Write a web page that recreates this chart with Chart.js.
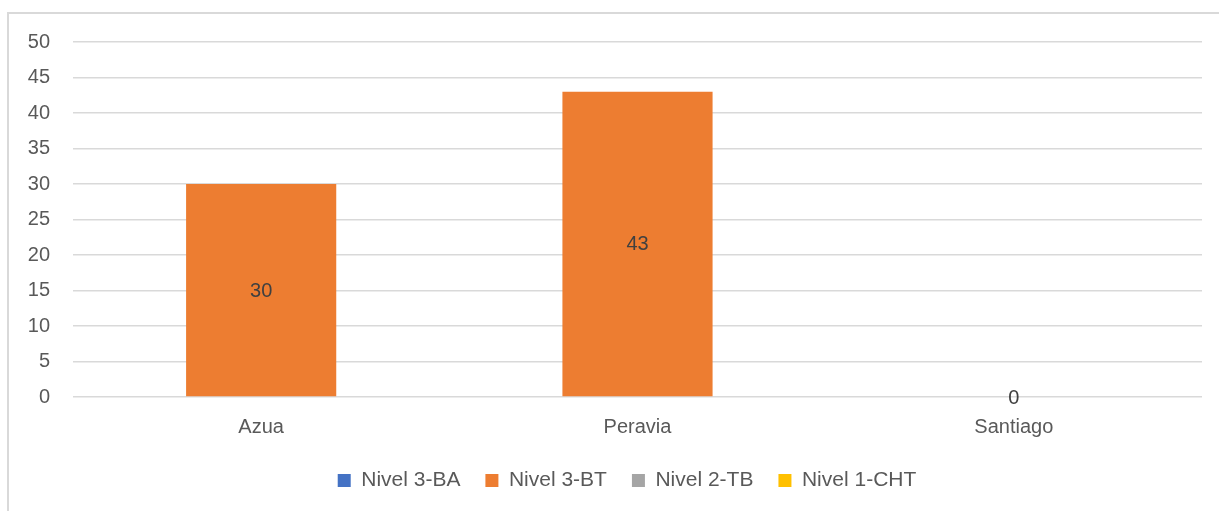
<!DOCTYPE html>
<html>
<head>
<meta charset="utf-8">
<script src="https://cdn.jsdelivr.net/npm/chart.js@4"></script>
<style>
  html, body { margin: 0; padding: 0; background: #fff; }
  #frame {
    position: absolute; left: 7px; top: 12px; width: 1220px; height: 510px;
    border-top: 2px solid #d9d9d9; border-left: 2px solid #d9d9d9;
  }
  #wrap { position: absolute; left: 0; top: 0; width: 1219px; height: 511px; }
</style>
</head>
<body>
<div id="frame"></div>
<div id="wrap"><canvas id="myChart" width="1219" height="511"></canvas></div>
<script>
// categories and series
var categories = ['Azua', 'Peravia', 'Santiago'];
var nivel3BA = [null, null, null];
var nivel3BT = [30, 43, 0];
var nivel2TB = [null, null, null];
var nivel1CHT = [null, null, null];
var yTicks = [0, 5, 10, 15, 20, 25, 30, 35, 40, 45, 50];

var fontFamily = "'Liberation Sans', Arial, sans-serif";

// value labels in the middle of each bar
var barLabels = {
  id: 'barLabels',
  beforeDraw: function(chart) {
    // legend sits a bit right of the canvas centre, like the original
    if (chart.legend) chart.legend.left = 52;
  },
  afterDatasetsDraw: function(chart) {
    var ctx = chart.ctx;
    ctx.save();
    ctx.font = '20px ' + fontFamily;
    ctx.fillStyle = '#404040';
    ctx.textAlign = 'center';
    ctx.textBaseline = 'middle';
    chart.data.datasets.forEach(function(ds, i) {
      var meta = chart.getDatasetMeta(i);
      meta.data.forEach(function(bar, j) {
        var v = ds.data[j];
        if (v === null || v === undefined) return;
        var yMid = (bar.y + bar.base) / 2;
        ctx.fillText(String(v), bar.x, yMid + 1);
      });
    });
    ctx.restore();
  }
};

window.onload = function() {
  var ctx = document.getElementById('myChart').getContext('2d');

  var params = {
    type: 'bar',
    data: {
      labels: categories,
      datasets: [
        { label: 'Nivel 3-BA', backgroundColor: '#4472C4', data: nivel3BA },
        { label: 'Nivel 3-BT', backgroundColor: '#ED7D31', data: nivel3BT },
        { label: 'Nivel 2-TB', backgroundColor: '#A5A5A5', data: nivel2TB },
        { label: 'Nivel 1-CHT', backgroundColor: '#FFC000', data: nivel1CHT },
      ],
    },
    options: {
      responsive: false,
      animation: false,
      layout: { padding: { left: 0, right: 17, top: 42, bottom: 10 } },
      datasets: {
        bar: { grouped: false, categoryPercentage: 1.0, barPercentage: 0.399 }
      },
      scales: {
        x: {
          grid: { display: false, drawTicks: false },
          border: { display: false },
          ticks: { color: '#595959', font: { family: fontFamily, size: 20 }, padding: 18 },
          afterFit: function(scale) { scale.height = 48; }
        },
        y: {
          min: 0, max: 50,
          afterBuildTicks: function(scale) {
            scale.ticks = yTicks.map(function(v) { return { value: v }; });
          },
          grid: { color: '#d9d9d9', lineWidth: 1.5, drawTicks: false },
          border: { display: false },
          ticks: { color: '#595959', font: { family: fontFamily, size: 20 }, padding: 23 },
          afterFit: function(scale) { scale.width = 73; }
        }
      },
      plugins: {
        legend: {
          position: 'bottom',
          labels: {
            boxWidth: 13, boxHeight: 13,
            color: '#595959',
            font: { family: fontFamily, size: 21 },
            padding: 25
          }
        },
        tooltip: { enabled: false }
      }
    },
    plugins: [barLabels]
  };

  var chart = new Chart(ctx, params);
};
</script>
</body>
</html>
